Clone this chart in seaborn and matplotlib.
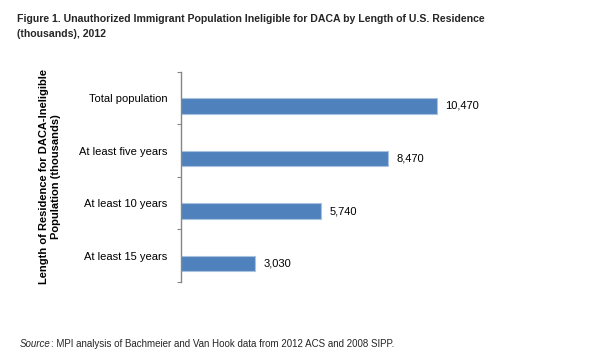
import numpy as np
import pandas as pd
import seaborn as sns
import matplotlib.pyplot as plt
from matplotlib.ticker import FixedLocator, NullFormatter

categories = ["Total population", "At least five years", "At least 10 years", "At least 15 years"]
values = [10470, 8470, 5740, 3030]
series = ["spacer", "Ineligible"]

title = "Figure 1. Unauthorized Immigrant Population Ineligible for DACA by Length of U.S. Residence\n(thousands), 2012"
ylabel = "Length of Residence for DACA-Ineligible\nPopulation (thousands)"

rows = []
for c, v in zip(categories, values):
    rows.append({"cat": c, "series": series[0], "val": np.nan})
    rows.append({"cat": c, "series": series[1], "val": v})
df = pd.DataFrame(rows)

sns.set_theme(style="white")
plt.rcParams["font.family"] = ["Liberation Sans", "DejaVu Sans"]

fig = plt.figure(figsize=(6.0, 3.61), dpi=100)
ax = fig.add_axes([0.3017, 0.2188, 0.4883, 0.5826])

sns.barplot(data=df, y="cat", x="val", hue="series", hue_order=series, order=categories,
            palette={"spacer": "#4F81BD", "Ineligible": "#4F81BD"}, width=0.6, saturation=1,
            edgecolor="#A9C2E0", linewidth=0.8, dodge=True, legend=False, ax=ax, orient="h")

ax.set_xlim(0, 12000)
ax.set_ylim(len(categories) - 0.5, -0.5)
ax.set_xticks([])
ax.set_xlabel("")
ax.set_ylabel(ylabel, fontsize=8, fontweight="bold", labelpad=13, color="black", linespacing=1.25)
for s in ["top", "right", "bottom"]:
    ax.spines[s].set_visible(False)
ax.spines["left"].set_color("#868686")
ax.spines["left"].set_linewidth(1.0)

ax.tick_params(axis="y", which="major", length=0, labelsize=8, labelcolor="black", pad=10)
ax.yaxis.set_minor_locator(FixedLocator(np.arange(len(categories) + 1) - 0.5))
ax.yaxis.set_minor_formatter(NullFormatter())
ax.tick_params(axis="y", which="minor", left=True, length=3, width=0.8, color="#868686")

ax.bar_label(ax.containers[1], labels=[f"{v:,}" for v in values], padding=6, fontsize=8, color="black")

fig.text(0.028, 0.962, title, fontsize=7.6, fontweight="bold", va="top", ha="left", linespacing=1.6)

t = fig.text(0.033, 0.04, "Source", fontsize=7, style="italic", va="baseline", ha="left")
fig.canvas.draw()
ax.annotate(": MPI analysis of Bachmeier and Van Hook data from 2012 ACS and 2008 SIPP.",
            xy=(1, 0), xycoords=t, va="bottom", ha="left", fontsize=7, annotation_clip=False)

fig.savefig("out.png", dpi=100)
